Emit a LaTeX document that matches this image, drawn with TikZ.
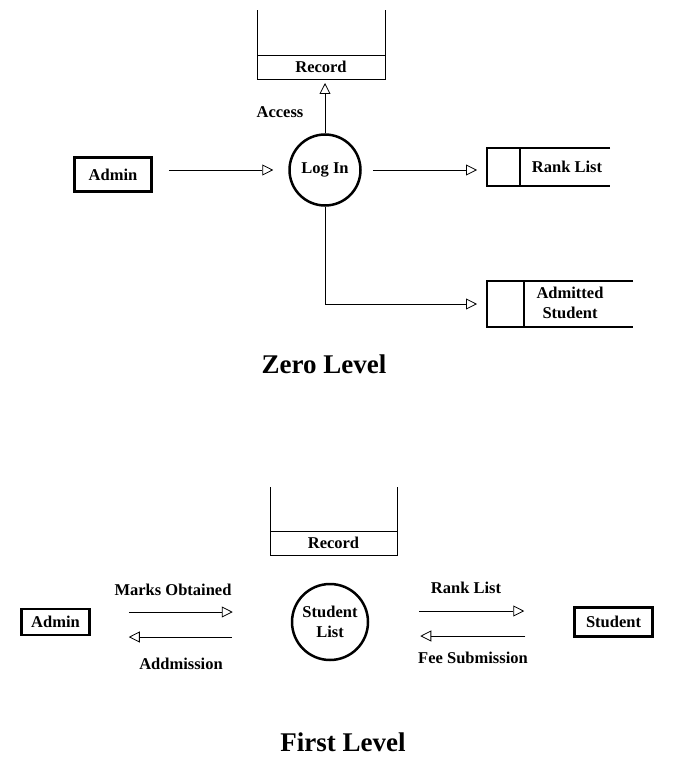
\documentclass[tikz,border=0pt]{standalone}
\usepackage{fontspec}
\setmainfont{Liberation Serif}
\usepackage{tikz}
\usetikzlibrary{arrows.meta,positioning,calc}

\begin{document}
\begin{tikzpicture}[x=1pt,y=-1pt,
  every node/.style={font=\bfseries\fontsize{16.5}{20}\selectfont},
  entity/.style={draw,line width=2.5pt,inner sep=0pt},
  process/.style={draw,circle,line width=2.5pt,inner sep=0pt,align=center},
  datastore/.style={inner sep=0pt,outer sep=0pt},
  recbox/.style={draw,line width=0.9pt,inner sep=0pt,outer sep=0pt,minimum height=24pt},
  storeline/.style={line width=2.5pt,line join=miter},
  flow/.style={-{Triangle[open,length=11pt,width=11pt]},line width=0.8pt},
  title/.style={font=\bfseries\fontsize{27}{32}\selectfont}]
\useasboundingbox (0,0) rectangle (682,778);

% Zero level
\node[recbox,minimum width=128pt] (rec1) at (321,67) {Record};
\draw[line width=0.9pt] (rec1.north west) -- ++(0,-45) (rec1.north east) -- ++(0,-45);

\node[process,minimum size=71pt] (login) at (325,170) {Log In};
\node[entity,minimum width=77pt,minimum height=34pt] (admin) at (113,174.5) {Admin};

\node[datastore,minimum width=123pt,minimum height=38pt] (rankst) at (548.5,167) {};
\draw[storeline] (rankst.north east) -- (rankst.north west) -- (rankst.south west) -- (rankst.south east);
\draw[storeline] ($(rankst.north west)+(33,0)$) -- ($(rankst.south west)+(33,0)$);
\node (rank) at (567,167) {Rank List};

\node[datastore,minimum width=146pt,minimum height=46pt] (admst) at (560,304) {};
\draw[storeline] (admst.north east) -- (admst.north west) -- (admst.south west) -- (admst.south east);
\draw[storeline] ($(admst.north west)+(37,0)$) -- ($(admst.south west)+(37,0)$);
\node[align=center] (adm) at (570,303) {Admitted\\Student};

\draw[flow,shorten >=4pt] (login.north) -- (login.north |- rec1.south);
\node (access) at (280,112) {Access};
\draw[flow,shorten <=16pt,shorten >=15pt] (admin.east |- login) -- (login);
\draw[flow,shorten <=11pt,shorten >=10pt] (login) -- (rankst.west |- login);
\draw[flow,shorten >=10pt] (login.south) |- (admst.west);

\node[title] (zero) at (324,364) {Zero Level};

% First level
\node[recbox,minimum width=127pt] (rec2) at (333.5,543) {Record};
\draw[line width=0.9pt] (rec2.north west) -- ++(0,-44) (rec2.north east) -- ++(0,-44);

\node[process,minimum size=76pt] (stdlist) at (330,622) {Student\\List};
\node[entity,minimum width=68pt,minimum height=26pt] (admin2) at (55.5,622) {Admin};
\node[entity,minimum width=78pt,minimum height=29pt] (student) at (613.5,622) {Student};

\draw[flow,shorten <=38pt,shorten >=58pt] ([yshift=10pt]admin2.east) -- ([yshift=10pt]stdlist.west);
\draw[flow,shorten <=59pt,shorten >=38pt] ([yshift=-15pt]stdlist.west) -- ([yshift=-15pt]admin2.east);
\draw[flow,shorten <=50pt,shorten >=49pt] ([yshift=11pt]stdlist.east) -- ([yshift=11pt]student.west);
\draw[flow,shorten <=48pt,shorten >=51pt] ([yshift=-14pt]student.west) -- ([yshift=-14pt]stdlist.east);

\node (marks) at (173,590) {Marks Obtained};
\node (addm) at (181,664) {Addmission};
\node (rank2) at (466,588) {Rank List};
\node (fee) at (473,658) {Fee Submission};

\node[title] (first) at (343,742) {First Level};
\end{tikzpicture}
\end{document}
